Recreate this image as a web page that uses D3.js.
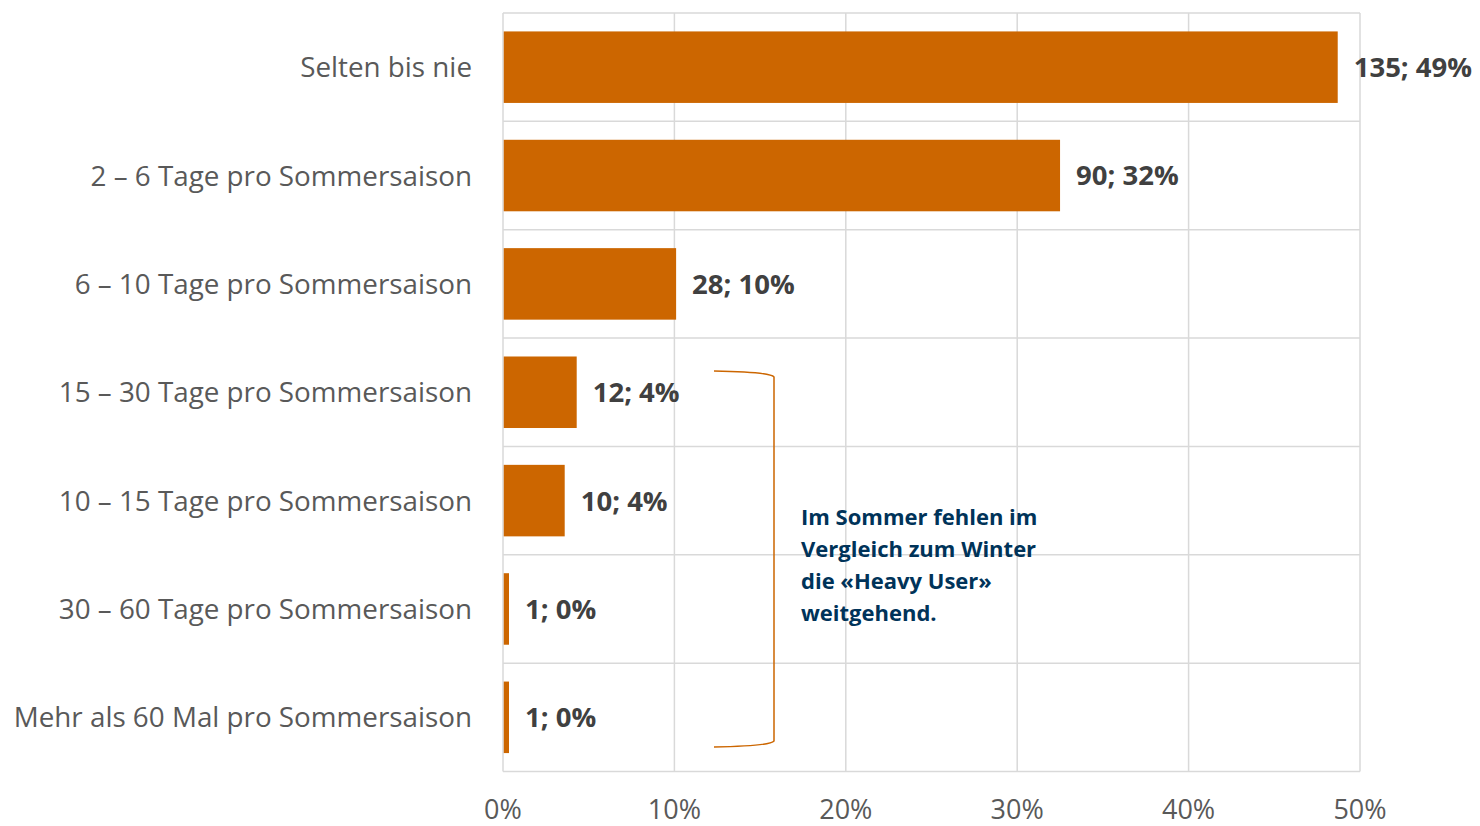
<!DOCTYPE html>
<html>
<head>
<meta charset="utf-8">
<script src="https://cdn.jsdelivr.net/npm/d3@7"></script>
<style>
  body { margin: 0; background: #fff; }
  svg { display: block; font-family: "Open Sans", Lato, sans-serif; }
</style>
</head>
<body>
<script>
// data
var categories = [
  "Selten bis nie",
  "2 \u2013 6 Tage pro Sommersaison",
  "6 \u2013 10 Tage pro Sommersaison",
  "15 \u2013 30 Tage pro Sommersaison",
  "10 \u2013 15 Tage pro Sommersaison",
  "30 \u2013 60 Tage pro Sommersaison",
  "Mehr als 60 Mal pro Sommersaison"
];
var shares = [48.7, 32.5, 10.1, 4.3, 3.6, 0.35, 0.35];
var valueLabels = ["135; 49%", "90; 32%", "28; 10%", "12; 4%", "10; 4%", "1; 0%", "1; 0%"];
var ticks = [0, 10, 20, 30, 40, 50];
var note = ["Im Sommer fehlen im", "Vergleich zum Winter", "die \u00abHeavy User\u00bb", "weitgehend."];

var W = 1480, H = 826;

var svg = d3.select("body").append("svg")
  .attr("width", W)
  .attr("height", H);

var x = d3.scaleLinear().domain([0, 50]).range([503, 1360]);

var yRow = d3.scaleBand().domain(categories).range([13, 771.5]);
var y = d3.scaleBand().domain(categories).range([13, 771.5]).paddingInner(0.34).paddingOuter(0.17);

// grid
var grid = svg.append("g");
grid.selectAll(".vg").data(ticks).enter().append("line")
  .attr("x1", d => x(d)).attr("x2", d => x(d))
  .attr("y1", 13).attr("y2", 771.5)
  .attr("stroke", "#d9d9d9").attr("stroke-width", 1.5);
var hLines = categories.map(c => yRow(c)).concat([771.5]);
grid.selectAll(".hg").data(hLines).enter().append("line")
  .attr("x1", 503).attr("x2", 1360)
  .attr("y1", d => d).attr("y2", d => d)
  .attr("stroke", "#d9d9d9").attr("stroke-width", 1.5);

// bars
svg.selectAll(".bar").data(categories).enter().append("rect")
  .attr("x", x(0) + 0.75)
  .attr("y", d => y(d))
  .attr("width", (d, i) => x(shares[i]) - x(0) - 0.75)
  .attr("height", y.bandwidth())
  .attr("fill", "#cc6600");

// value labels
svg.selectAll(".val").data(categories).enter().append("text")
  .attr("x", (d, i) => x(shares[i]) + 16)
  .attr("y", d => yRow(d) + yRow.bandwidth() / 2)
  .attr("dy", "0.36em")
  .attr("font-size", 27.5)
  .attr("font-weight", "bold")
  .attr("fill", "#404040")
  .text((d, i) => valueLabels[i]);

// category labels
svg.selectAll(".cat").data(categories).enter().append("text")
  .attr("x", 472)
  .attr("y", d => yRow(d) + yRow.bandwidth() / 2)
  .attr("dy", "0.36em")
  .attr("text-anchor", "end")
  .attr("font-size", 27.8)
  .attr("fill", "#595959")
  .text(d => d);

// x tick labels
svg.selectAll(".tick").data(ticks).enter().append("text")
  .attr("x", d => x(d))
  .attr("y", 819)
  .attr("text-anchor", "middle")
  .attr("font-size", 27)
  .attr("fill", "#595959")
  .text(d => d + "%");

// bracket
var bx0 = 714, bx1 = 774, by0 = 371, by1 = 747;
var path = d3.path();
path.moveTo(bx0, by0);
path.quadraticCurveTo(bx1 - 4, by0 + 1, bx1, by0 + 6);
path.lineTo(bx1, by1 - 6);
path.quadraticCurveTo(bx1 - 4, by1 - 1, bx0, by1);
svg.append("path")
  .attr("d", path.toString())
  .attr("fill", "none")
  .attr("stroke", "#cc6600")
  .attr("stroke-width", 1.5);

// note
svg.append("text")
  .attr("font-size", 22)
  .attr("font-weight", "bold")
  .attr("fill", "#003359")
  .selectAll("tspan").data(note).enter().append("tspan")
  .attr("x", 801)
  .attr("y", (d, i) => 525 + i * 32)
  .text(d => d);
</script>
</body>
</html>
